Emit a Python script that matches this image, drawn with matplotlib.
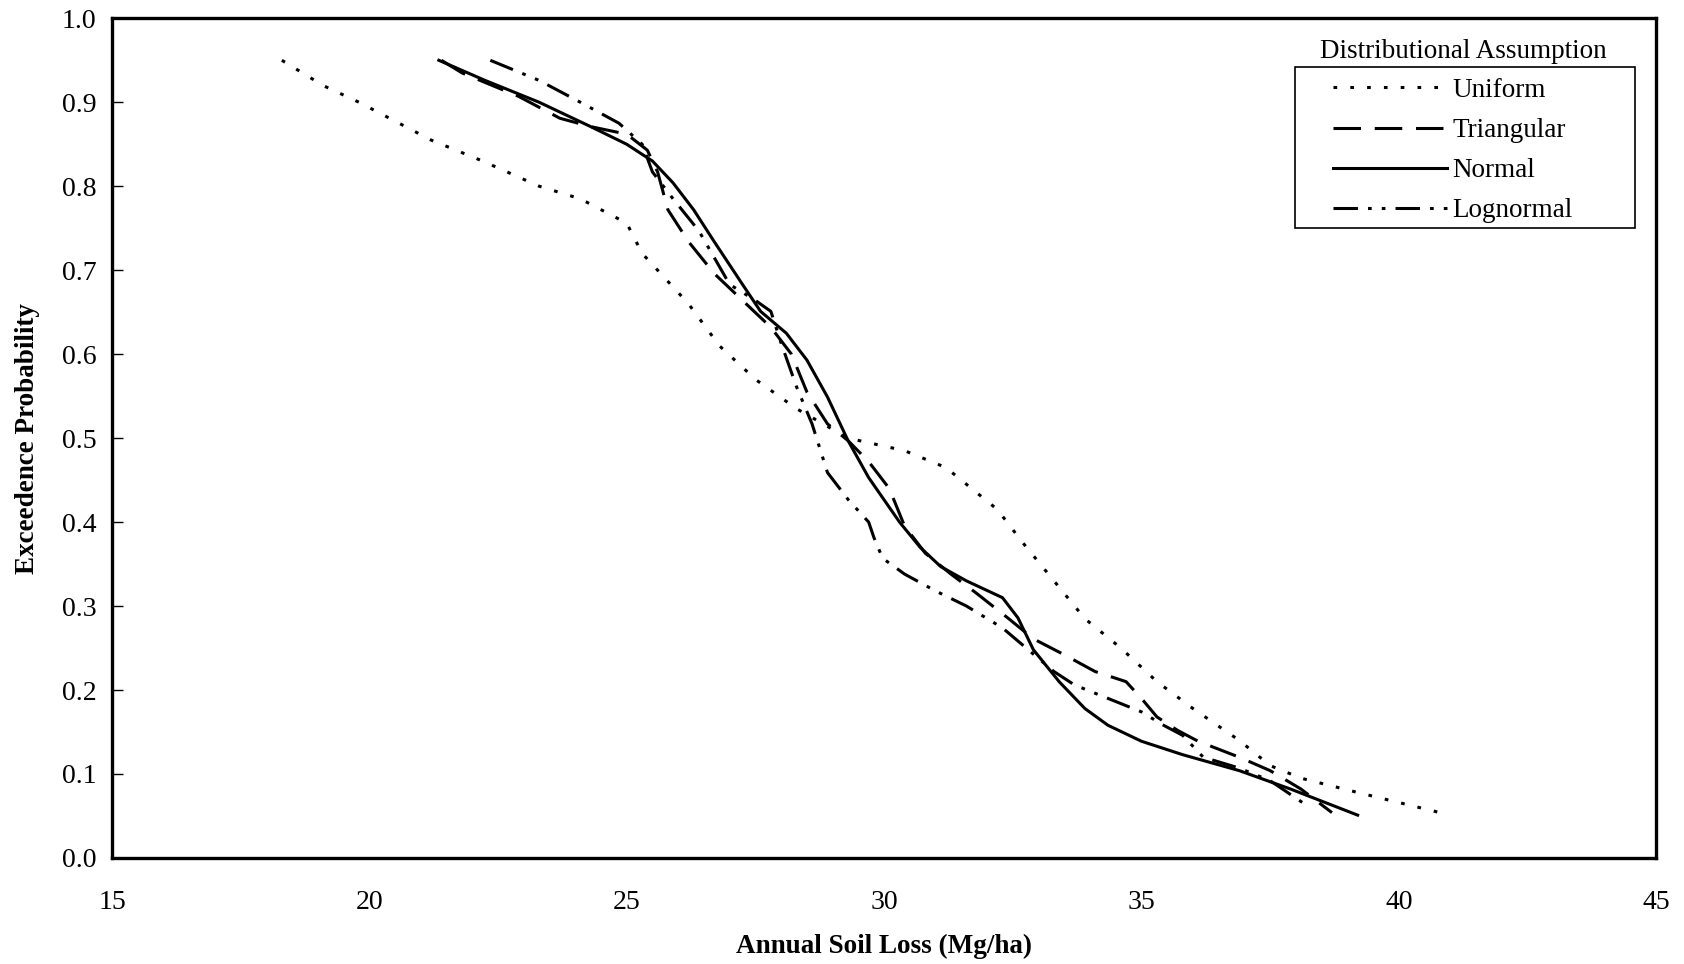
import matplotlib
matplotlib.use("Agg")
from matplotlib import pyplot as plt
from matplotlib.patches import Rectangle

plt.rcParams['font.family'] = ['Liberation Serif', 'DejaVu Serif']

# exceedence curves, soil loss (Mg/ha) vs probability
uniform_x = [18.3, 19.1, 19.8, 21.2, 22.2, 23.3, 24.1, 25.0, 25.3, 25.6, 26.2, 26.8,
             27.5, 28.3, 29.3, 30.4, 31.2, 31.7, 32.2, 32.7, 33.3, 33.9, 34.6, 35.3,
             36.0, 36.9, 37.5, 38.1, 39.2, 40.8]
uniform_y = [0.95, 0.92, 0.90, 0.855, 0.83, 0.80, 0.785, 0.756, 0.72, 0.70, 0.66, 0.61,
             0.57, 0.535, 0.50, 0.485, 0.465, 0.44, 0.415, 0.375, 0.33, 0.285, 0.25, 0.21,
             0.178, 0.14, 0.11, 0.095, 0.078, 0.054]

tri_x = [21.4, 21.8, 22.9, 23.7, 24.3, 25.0, 25.4, 25.6, 25.8, 26.2, 26.7, 27.25, 27.8,
         28.2, 28.5, 28.9, 29.3, 29.7, 30.1, 30.4, 30.8, 31.3, 31.8, 32.4, 32.9, 33.5,
         34.1, 34.7, 35.0, 35.3, 35.7, 36.1, 36.9, 37.5, 38.1, 38.7]
tri_y = [0.95, 0.935, 0.907, 0.881, 0.871, 0.862, 0.843, 0.817, 0.772, 0.734, 0.696,
         0.664, 0.632, 0.60, 0.555, 0.517, 0.497, 0.472, 0.44, 0.395, 0.363, 0.338,
         0.315, 0.286, 0.261, 0.242, 0.222, 0.21, 0.19, 0.168, 0.152, 0.139, 0.12,
         0.104, 0.082, 0.054]

normal_x = [21.35, 22.25, 23.3, 24.3, 25.0, 25.5, 25.9, 26.3, 26.7, 27.25, 27.6, 28.1,
            28.5, 28.9, 29.3, 29.7, 30.3, 30.7, 31.1, 31.6, 32.3, 32.6, 32.9, 33.4,
            33.9, 34.35, 35.0, 35.8, 36.9, 37.9, 39.2]
normal_y = [0.95, 0.926, 0.90, 0.871, 0.85, 0.83, 0.804, 0.772, 0.734, 0.683, 0.651,
            0.625, 0.593, 0.549, 0.497, 0.453, 0.40, 0.37, 0.347, 0.33, 0.31, 0.286,
            0.248, 0.21, 0.178, 0.158, 0.139, 0.123, 0.104, 0.082, 0.051]

logn_x = [22.35, 23.3, 24.1, 24.85, 25.3, 25.5, 25.9, 26.4, 26.7, 27.0, 27.5, 27.8,
          28.0, 28.3, 28.6, 28.9, 29.3, 29.7, 29.8, 29.97, 30.4, 31.0, 31.6, 32.3,
          32.8, 33.3, 33.7, 34.35, 35.0, 35.4, 35.8, 36.2, 36.9, 37.5, 38.2]
logn_y = [0.95, 0.926, 0.90, 0.875, 0.85, 0.817, 0.785, 0.747, 0.715, 0.683, 0.664,
          0.651, 0.613, 0.561, 0.517, 0.459, 0.427, 0.40, 0.382, 0.357, 0.338, 0.318,
          0.30, 0.274, 0.248, 0.222, 0.206, 0.19, 0.174, 0.159, 0.146, 0.12, 0.107,
          0.092, 0.063]

fig = plt.figure(figsize=(16.84, 9.64), dpi=100)
ax = fig.add_axes([0.0665, 0.110, 0.917, 0.871])

lw = 2.2
ax.plot(uniform_x, uniform_y, color='black', lw=lw, linestyle=(0, (1.2, 4.3)), label='Uniform')
ax.plot(tri_x, tri_y, color='black', lw=lw, linestyle=(0, (9, 4.5)), label='Triangular')
ax.plot(normal_x, normal_y, color='black', lw=lw, linestyle='-', label='Normal')
ax.plot(logn_x, logn_y, color='black', lw=lw, linestyle=(0, (8, 3.3, 1.2, 3.3, 1.2, 3.3)),
        label='Lognormal')

ax.set_xlim(15, 45)
ax.set_ylim(0, 1.0)
ax.set_xticks(range(15, 50, 5))
ax.set_yticks([i / 10 for i in range(11)])
ax.set_yticklabels(['%.1f' % (i / 10) for i in range(11)])
ax.tick_params(axis='y', direction='in', length=8, width=1, labelsize=20, pad=11)
ax.tick_params(axis='x', length=0, labelsize=20, pad=23)
for s in ax.spines.values():
    s.set_linewidth(2.4)

ax.set_xlabel('Annual Soil Loss (Mg/ha)', fontsize=19.5, fontweight='bold', labelpad=14)
ax.set_ylabel('Exceedence Probability', fontsize=19.5, fontweight='bold', labelpad=16)

# legend: entries without frame, box drawn separately, title above the box
leg = ax.legend(loc='upper left', bbox_to_anchor=(0.791, 0.929), fontsize=19.5,
                frameon=False, handlelength=4.2, handletextpad=0.2,
                labelspacing=0.56, borderpad=0, borderaxespad=0)
ax.add_patch(Rectangle((0.766, 0.750), 0.220, 0.192, transform=ax.transAxes,
                       fill=False, edgecolor='black', lw=1.2, zorder=5))
ax.text(0.875, 0.961, 'Distributional Assumption', transform=ax.transAxes,
        ha='center', va='center', fontsize=19.5)

plt.savefig('out.png', dpi=100)
